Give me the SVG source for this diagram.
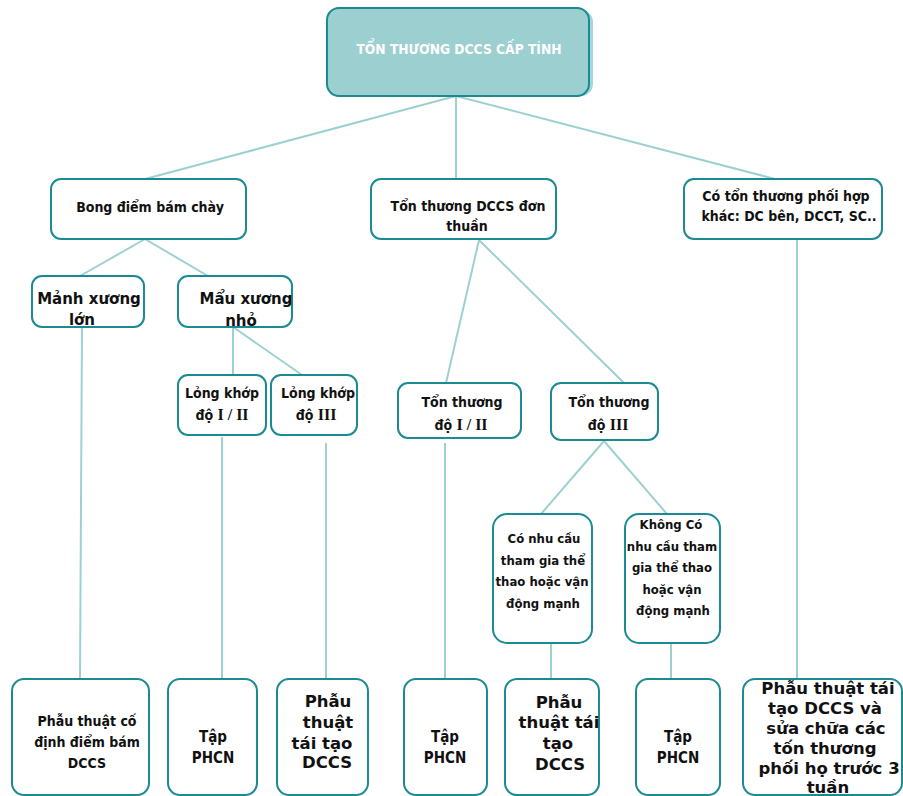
<svg xmlns="http://www.w3.org/2000/svg" width="903" height="796" viewBox="0 0 903 796">
<style>
.n{fill:#fff;stroke:#1b8a92;stroke-width:2}
.c{stroke:#9dd1d1;stroke-width:2;fill:none}
.t{font-family:"DejaVu Sans Condensed","DejaVu Sans",sans-serif;font-weight:bold;font-size:14px;fill:#111;text-anchor:middle}
.m{font-size:13px}
.p{font-size:15px}
.v{font-family:"DejaVu Sans",sans-serif;font-weight:bold;font-size:15px;fill:#111;text-anchor:middle}
.b{font-size:16.5px}
.s{font-family:"Liberation Serif",serif;font-weight:bold;font-size:16px}
</style>
<rect width="903" height="796" fill="#fff"/>
<g id="connectors">
<path class="c" d="M456 96L145 179M456 96V179M456 96L775 179"/>
<path class="c" d="M145 239L80 276M145 239L208 276"/>
<path class="c" d="M233 327V375M233 327L302 375"/>
<path class="c" d="M479 240L446 383M479 240L624 383"/>
<path class="c" d="M604 441L541 514M604 441L667 514"/>
<path class="c" d="M82 327L80 679M222 437V679M326 443V679M445 443V679M551 643V679M671 643V679M797 239V679"/>
</g>
<g id="root">
<rect x="331" y="10" width="262" height="86" rx="12" fill="#a6d6d6"/>
<rect x="327" y="8" width="262" height="88" rx="12" fill="#9ccfcf" stroke="#1b8a92" stroke-width="2"/>
<text x="459" y="54" font-family="DejaVu Sans Condensed,DejaVu Sans,sans-serif" font-weight="bold" font-size="13.7" fill="#fff" text-anchor="middle">TỔN THƯƠNG DCCS CẤP TÍNH</text>
</g>
<g id="bong">
<rect class="n" x="51" y="179" width="195" height="60" rx="10"/>
<text class="t" x="150" y="212">Bong điểm bám chày</text>
</g>
<g id="donthuan">
<rect class="n" x="371" y="179" width="185" height="60" rx="10"/>
<text class="t" x="468" y="211">Tổn thương DCCS đơn</text>
<text class="t" x="467" y="231">thuần</text>
</g>
<g id="phoihop">
<rect class="n" x="684" y="179" width="198" height="60" rx="10"/>
<text class="t" x="786" y="201">Có tổn thương phối hợp</text>
<text class="t" x="789" y="221">khác: DC bên, DCCT, SC..</text>
</g>
<g id="manhxuong">
<rect class="n" x="32" y="276" width="112" height="51" rx="10"/>
<text class="v" x="89" y="304">Mảnh xương</text>
<text class="v" x="82" y="325">lớn</text>
</g>
<g id="mauxuong">
<rect class="n" x="178" y="276" width="114" height="51" rx="10"/>
<text class="v" x="246" y="304">Mẩu xương</text>
<text class="v" x="241" y="326">nhỏ</text>
</g>
<g id="longkhop12">
<rect class="n" x="178" y="375" width="88" height="60" rx="10"/>
<text class="t" x="222" y="398">Lỏng khớp</text>
<text class="t" x="222" y="420">độ <tspan class="s">I / II</tspan></text>
</g>
<g id="longkhop3">
<rect class="n" x="271" y="375" width="86" height="60" rx="10"/>
<text class="t" x="318" y="398">Lỏng khớp</text>
<text class="t" x="316" y="420">độ <tspan class="s">III</tspan></text>
</g>
<g id="ton12">
<rect class="n" x="398" y="383" width="123" height="55" rx="10"/>
<text class="t" x="462" y="407">Tổn thương</text>
<text class="t" x="461" y="430">độ <tspan class="s">I / II</tspan></text>
</g>
<g id="ton3">
<rect class="n" x="551" y="383" width="107" height="57" rx="10"/>
<text class="t" x="609" y="407">Tổn thương</text>
<text class="t" x="608" y="430">độ  <tspan class="s">III</tspan></text>
</g>
<g id="conhucau">
<rect class="n" x="493" y="514" width="99" height="129" rx="14"/>
<text class="t m" x="544" y="543">Có nhu cầu</text>
<text class="t m" x="543" y="565">tham gia thể</text>
<text class="t m" x="542" y="586">thao hoặc vận</text>
<text class="t m" x="543" y="608">động mạnh</text>
</g>
<g id="khongco">
<rect class="n" x="625" y="514" width="95" height="129" rx="14"/>
<text class="t m" x="671" y="529">Không Có</text>
<text class="t m" x="672" y="551">nhu cầu tham</text>
<text class="t m" x="672" y="572">gia thể thao</text>
<text class="t m" x="672" y="594">hoặc vận</text>
<text class="t m" x="673" y="615">động mạnh</text>
</g>
<g id="codinh">
<rect class="n" x="12" y="679" width="137" height="116" rx="12"/>
<text class="t" x="87" y="726">Phẫu thuật cố</text>
<text class="t" x="87" y="747">định điểm bám</text>
<text class="t" x="87" y="768">DCCS</text>
</g>
<g id="tap1">
<rect class="n" x="168" y="679" width="89" height="116" rx="12"/>
<text class="t p" x="213" y="742">Tập</text>
<text class="t p" x="213" y="763">PHCN</text>
</g>
<g id="taitao1">
<rect class="n" x="277" y="679" width="91" height="116" rx="12"/>
<text class="v b" x="328" y="707">Phẫu</text>
<text class="v b" x="328" y="728">thuật</text>
<text class="v b" x="322" y="749">tái tạo</text>
<text class="v b" x="327" y="768">DCCS</text>
</g>
<g id="tap2">
<rect class="n" x="404" y="679" width="83" height="116" rx="12"/>
<text class="t p" x="445" y="742">Tập</text>
<text class="t p" x="445" y="763">PHCN</text>
</g>
<g id="taitao2">
<rect class="n" x="505" y="679" width="94" height="116" rx="12"/>
<text class="v b" x="559" y="708">Phẫu</text>
<text class="v b" x="559" y="728">thuật tái</text>
<text class="v b" x="558" y="749">tạo</text>
<text class="v b" x="560" y="770">DCCS</text>
</g>
<g id="tap3">
<rect class="n" x="636" y="679" width="84" height="116" rx="12"/>
<text class="t p" x="678" y="742">Tập</text>
<text class="t p" x="678" y="763">PHCN</text>
</g>
<g id="taitao3">
<rect class="n" x="743" y="679" width="159" height="116" rx="12"/>
<text class="v b" x="828" y="694">Phẫu thuật tái</text>
<text class="v b" x="825" y="714">tạo DCCS và</text>
<text class="v b" x="826" y="734">sửa chữa các</text>
<text class="v b" x="825" y="754">tốn thương</text>
<text class="v b" x="829" y="774">phối họ trước 3</text>
<text class="v b" x="828" y="793">tuần</text>
</g>
</svg>
